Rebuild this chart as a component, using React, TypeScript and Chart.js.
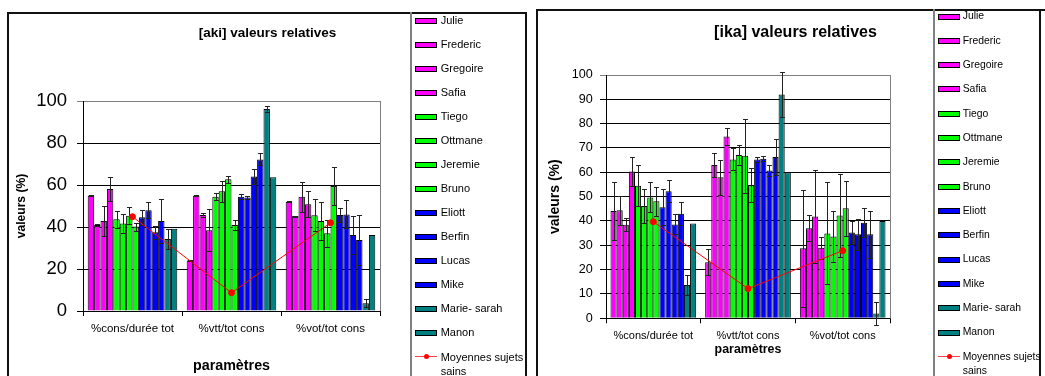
import React, { useEffect, useRef } from "react";
import { Chart, registerables } from "chart.js";

Chart.register(...registerables);

const FONT = '"Liberation Sans", Arial, sans-serif';
Chart.defaults.font.family = FONT;
Chart.defaults.color = "#000";

// ---------- data ----------
const participants = [
  "Julie", "Frederic", "Gregoire", "Safia",
  "Tiego", "Ottmane", "Jeremie", "Bruno",
  "Eliott", "Berfin", "Lucas", "Mike",
  "Marie- sarah", "Manon",
];
const participantColors = [
  "#FF00FF", "#FF00FF", "#FF00FF", "#FF00FF",
  "#00FF00", "#00FF00", "#00FF00", "#00FF00",
  "#0000FF", "#0000FF", "#0000FF", "#0000FF",
  "#008080", "#008080",
];
const categories = ["%cons/durée tot", "%vtt/tot cons", "%vot/tot cons"];
const meanLabel = "Moyennes sujets sains";

// [aki]
const akiCons = [55, 41, 42.9, 58.1, 43.7, 41.7, 45.4, 40.2, 44.6, 48, 37.5, 42.9, 34.3, 39.2];
const akiConsErr = [0.3, 0.3, 7, 5.7, 4.1, 4.6, 4, 1.9, 3.5, 3.8, 3, 10.5, 4.8, null];
const akiVtt = [24.1, 54.9, 45.7, 38.4, 54.4, 57, 62.7, 41, 54.4, 54.1, 64.1, 72.2, 96.2, 63.7];
const akiVttErr = [0.3, 0.3, 1, 10, 1.6, 5, 1.6, 2.3, 1.3, 0.6, 3.4, 2.9, 1.4, null];
const akiVot = [52, 45.2, 54.4, 50.8, 45.6, 42.9, 37, 59.5, 45.7, 46, 36.2, 33.8, 3.7, 36.2];
const akiVotErr = [0.3, 0.2, 7.2, 6.2, 7.6, 8.9, 6.3, 8.9, 3.5, 6.7, 9, 11.8, 1.9, null];
const akiMeans = [44.9, 8.7, 42];

// [ika]
const ikaCons = [44.1, 44.4, 38.4, 60.3, 54.5, 46.2, 49.7, 48.1, 45.6, 52.2, 38.6, 43, 13.7, 39];
const ikaConsErr = [11.8, 6, 2.7, 6, 8.5, 7, 6.2, 6, 7.4, 4.5, 4.1, 4.7, 4.1, null];
const ikaVtt = [23, 63, 58, 74.7, 65.3, 67.1, 66.8, 54.8, 65.3, 65.6, 60.7, 66.3, 92, 60];
const ikaVttErr = [5.4, 4.8, 7.2, 3.4, 4.5, 4.1, 15.2, 7, 1, 1, 2.3, 7.6, 9.3, null];
const ikaVot = [28.8, 37, 41.8, 29, 34.9, 33.6, 42.3, 45.2, 35.3, 34.5, 39.3, 34.5, 2, 40];
const ikaVotErr = [24, 5.4, 19, 4.6, 21, 10.5, 16.9, 11.2, 4.6, 6.3, 5.9, 9.6, 4.8, null];
const ikaMeans = [39.7, 12.2, 27.8];

// ---------- plugins ----------
const errorBarPlugin = {
  id: "errorBars",
  afterDatasetDraw(chart: any, args: any) {
    const ds = chart.data.datasets[args.index];
    if (!ds.errors) return;
    const yScale = chart.scales.y;
    const ctx = chart.ctx;
    ctx.save();
    ctx.strokeStyle = "#222";
    ctx.lineWidth = 1;
    args.meta.data.forEach((bar: any, i: number) => {
      const e = ds.errors[i];
      if (e == null) return;
      const v = ds.data[i];
      const x = Math.round(bar.x) + 0.5;
      const yt = Math.round(yScale.getPixelForValue(v + e)) + 0.5;
      const yb = Math.round(yScale.getPixelForValue(v - e)) + 0.5;
      const hw = Math.max(2, bar.width * 0.4);
      ctx.beginPath();
      ctx.moveTo(x, yt);
      ctx.lineTo(x, yb);
      ctx.moveTo(x - hw, yt);
      ctx.lineTo(x + hw, yt);
      ctx.moveTo(x - hw, yb);
      ctx.lineTo(x + hw, yb);
      ctx.stroke();
    });
    ctx.restore();
  },
};

const plotBorderPlugin = {
  id: "plotBorder",
  beforeDatasetsDraw(chart: any) {
    const { ctx, chartArea } = chart;
    ctx.save();
    ctx.strokeStyle = "#808080";
    ctx.lineWidth = 1;
    ctx.beginPath();
    const x = Math.round(chartArea.right) + 0.5;
    ctx.moveTo(x, chartArea.top);
    ctx.lineTo(x, chartArea.bottom);
    ctx.stroke();
    ctx.restore();
  },
};

const fixedTitlePlugin = {
  id: "fixedTitle",
  afterDraw(chart: any, _args: any, opts: any) {
    const ctx = chart.ctx;
    ctx.save();
    ctx.font = `bold ${opts.size}px ${FONT}`;
    ctx.fillStyle = "#000";
    ctx.textAlign = "center";
    ctx.textBaseline = "middle";
    ctx.fillText(opts.text, opts.x, opts.y);
    ctx.restore();
  },
};

type Layout = {
  title: string;
  titleSize: number;
  titleX: number;
  titleY: number;
  padRight: number;
  padTop: number;
  yWidth: number;
  xHeight: number;
  yStep: number;
  yTickSize: number;
  yTickPad: number;
  yTitleSize: number;
  yTitlePad: number;
  xTickSize: number;
  xTickPad: number;
  xTitleSize: number;
  xTitlePad: number;
};

function buildConfig(
  cons: number[], consErr: (number | null)[],
  vtt: number[], vttErr: (number | null)[],
  vot: number[], votErr: (number | null)[],
  means: number[], L: Layout
): any {
  const barSets = participants.map((name, i) => ({
    type: "bar",
    label: name,
    data: [cons[i], vtt[i], vot[i]],
    errors: [consErr[i], vttErr[i], votErr[i]],
    backgroundColor: participantColors[i],
    borderColor: "#000",
    borderWidth: 1,
    categoryPercentage: 0.905,
    barPercentage: 1,
  }));
  const lineSet = {
    type: "line",
    label: meanLabel,
    data: means,
    borderColor: "#FF0000",
    borderWidth: 1,
    pointRadius: 3,
    pointBackgroundColor: "#FF0000",
    pointBorderColor: "#FF0000",
    fill: false,
    order: -1,
  };
  return {
    type: "bar",
    data: { labels: categories, datasets: [...barSets, lineSet] },
    plugins: [errorBarPlugin, plotBorderPlugin, fixedTitlePlugin],
    options: {
      animation: false,
      responsive: false,
      maintainAspectRatio: false,
      devicePixelRatio: 1,
      layout: { padding: { left: 0, right: L.padRight, top: L.padTop, bottom: 0 } },
      plugins: {
        legend: { display: false },
        tooltip: { enabled: false },
        title: { display: false },
        fixedTitle: { text: L.title, size: L.titleSize, x: L.titleX, y: L.titleY },
      },
      scales: {
        x: {
          ticks: {
            font: { size: L.xTickSize, family: FONT },
            color: "#000",
            padding: L.xTickPad,
            maxRotation: 0,
            autoSkip: false,
          },
          grid: {
            drawOnChartArea: false,
            drawTicks: true,
            tickLength: 5,
            color: "#000",
            offset: true,
          },
          border: { display: true, color: "#000", width: 1 },
          title: {
            display: true,
            text: "paramètres",
            color: "#000",
            font: { size: L.xTitleSize, weight: "bold", family: FONT },
            padding: { top: 0, bottom: L.xTitlePad },
          },
          afterFit: (s: any) => {
            s.height = L.xHeight;
          },
        },
        y: {
          min: 0,
          max: 100,
          ticks: {
            stepSize: L.yStep,
            font: { size: L.yTickSize, family: FONT },
            color: "#000",
            padding: L.yTickPad,
          },
          grid: {
            color: (c: any) => (c.tick && c.tick.value === 100 ? "#808080" : "#000"),
            tickLength: 6,
            lineWidth: 1,
          },
          border: { display: true, color: "#000", width: 1 },
          title: {
            display: true,
            text: "valeurs (%)",
            color: "#000",
            font: { size: L.yTitleSize, weight: "bold", family: FONT },
            padding: { top: L.yTitlePad, bottom: 0 },
          },
          afterFit: (s: any) => {
            s.width = L.yWidth;
          },
        },
      },
    },
  };
}

const akiLayout: Layout = {
  title: "[aki] valeurs relatives",
  titleSize: 13.5,
  titleX: 259.5,
  titleY: 20,
  padRight: 31,
  padTop: 88,
  yWidth: 75,
  xHeight: 65,
  yStep: 20,
  yTickSize: 18.5,
  yTickPad: 10,
  yTitleSize: 12.1,
  yTitlePad: 6.4,
  xTickSize: 11.5,
  xTickPad: 6.4,
  xTitleSize: 14.3,
  xTitlePad: 0.9,
};

const ikaLayout: Layout = {
  title: "[ika] valeurs relatives",
  titleSize: 16,
  titleX: 258.5,
  titleY: 22.3,
  padRight: 44,
  padTop: 65,
  yWidth: 69,
  xHeight: 57.7,
  yStep: 10,
  yTickSize: 12.6,
  yTickPad: 7.3,
  yTitleSize: 14,
  yTitlePad: 9.6,
  xTickSize: 11,
  xTickPad: 6.1,
  xTitleSize: 12.4,
  xTitlePad: 19,
};

function ChartCanvas(props: { config: () => any; left: number; top: number; width: number; height: number }) {
  const ref = useRef<HTMLCanvasElement | null>(null);
  useEffect(() => {
    if (!ref.current) return;
    const chart = new Chart(ref.current, props.config());
    return () => chart.destroy();
  }, []);
  return (
    <canvas
      ref={ref}
      width={props.width}
      height={props.height}
      style={{ position: "absolute", left: props.left, top: props.top, width: props.width, height: props.height }}
    />
  );
}

function Legend(props: {
  left: number; right: number; top: number;
  swLeft: number; textLeft: number; startY: number; step: number;
  fontSize: number; meanY: number;
}) {
  const { left, right, top, swLeft, textLeft, startY, step, fontSize, meanY } = props;
  const lh = fontSize * 1.2;
  return (
    <>
      <div
        style={{
          position: "absolute", left, top, width: right - left, height: 400,
          borderLeft: "2px solid #808080", borderRight: "2px solid #111", boxSizing: "border-box",
        }}
      />
      {participants.map((name, i) => {
        const cy = startY + i * step;
        return (
          <React.Fragment key={name}>
            <div
              style={{
                position: "absolute", left: swLeft, top: cy - 3, width: 22, height: 6,
                background: participantColors[i], border: "1px solid #000", boxSizing: "border-box",
              }}
            />
            <div
              style={{
                position: "absolute", left: textLeft, top: cy - lh / 2, fontSize, lineHeight: `${lh}px`,
                fontFamily: FONT, color: "#000", whiteSpace: "nowrap",
              }}
            >
              {name}
            </div>
          </React.Fragment>
        );
      })}
      <div style={{ position: "absolute", left: swLeft, top: meanY - 0.5, width: 22, height: 1, background: "#FF4040" }} />
      <div
        style={{
          position: "absolute", left: swLeft + 8.5, top: meanY - 2.5, width: 5, height: 5,
          borderRadius: "50%", background: "#FF0000",
        }}
      />
      <div
        style={{
          position: "absolute", left: textLeft, top: meanY - 7.15, fontSize, lineHeight: "14.3px",
          fontFamily: FONT, color: "#000", whiteSpace: "nowrap",
        }}
      >
        Moyennes sujets
        <br />
        sains
      </div>
    </>
  );
}

export default function App() {
  return (
    <div
      style={{
        position: "absolute", left: 0, top: 0, width: 1045, height: 376,
        overflow: "hidden", background: "#fff",
      }}
    >
      <ChartCanvas
        config={() => buildConfig(akiCons, akiConsErr, akiVtt, akiVttErr, akiVot, akiVotErr, akiMeans, akiLayout)}
        left={8}
        top={13}
        width={403}
        height={363}
      />
      <ChartCanvas
        config={() => buildConfig(ikaCons, ikaConsErr, ikaVtt, ikaVttErr, ikaVot, ikaVotErr, ikaMeans, ikaLayout)}
        left={537}
        top={10}
        width={397}
        height={366}
      />
      {/* frames */}
      <div
        style={{
          position: "absolute", left: 7, top: 12, width: 520, height: 400,
          border: "2px solid #111", boxSizing: "border-box",
        }}
      />
      <div
        style={{
          position: "absolute", left: 536, top: 9, width: 540, height: 400,
          border: "2px solid #111", boxSizing: "border-box",
        }}
      />
      <Legend left={410} right={527} top={12} swLeft={415} textLeft={440.7} startY={20.5} step={24.02} fontSize={11} meanY={356.7} />
      <Legend left={933} right={1041} top={9} swLeft={938.3} textLeft={962.7} startY={16.5} step={24.32} fontSize={10.4} meanY={356.7} />
    </div>
  );
}
